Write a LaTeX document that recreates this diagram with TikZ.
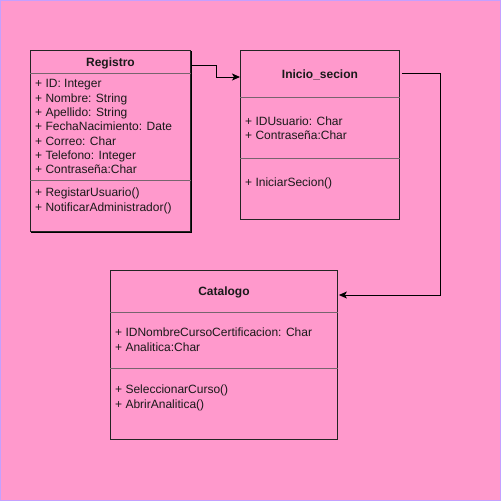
\documentclass[tikz,border=0pt]{standalone}
\usepackage{fontspec}
\setmainfont{Liberation Sans}
\usepackage{tikz}
\usepackage{xcolor}
\usetikzlibrary{arrows.meta,positioning}
\definecolor{ucpink}{RGB}{255,153,204}
\definecolor{ucframe}{RGB}{196,160,255}
\definecolor{ucedge}{RGB}{36,36,36}
\definecolor{ucsepgrey}{RGB}{120,100,110}
\definecolor{uctext}{RGB}{26,26,26}
\tikzset{
  ucclass/.style={draw=ucedge, line width=0.9pt, rectangle, inner sep=0pt, anchor=north west},
  uctitle/.style={font=\fontsize{12}{14}\selectfont\bfseries, text=uctext, inner sep=0pt, text height=8.6pt, text depth=0pt},
  ucmembers/.style={font=\fontsize{12}{14.3}\selectfont, text=uctext, align=left, inner sep=0pt, anchor=north west},
  ucsep/.style={draw=ucsepgrey, line width=0.8pt},
  ucshadow/.style={draw=black, line width=1pt},
  ucarrow/.style={-{Stealth[length=8pt,width=7pt,inset=2pt]}, line width=1pt, draw=black}
}
\begin{document}
\begin{tikzpicture}[x=1pt, y=-1pt]
  \useasboundingbox (0,0) rectangle (501,501);
  \fill[ucframe] (0,0) rectangle (501,501);
  \fill[ucpink] (1,1) rectangle (500,500);
  % classes
  \node[ucclass, minimum width=160pt, minimum height=181pt] (registro) at (30,50) {};
  \node[ucclass, minimum width=159pt, minimum height=169pt] (inicio) at (240,50) {};
  \node[ucclass, minimum width=227pt, minimum height=169pt] (catalogo) at (110,270) {};
  \draw[ucshadow] ([xshift=1pt,yshift=-1pt]registro.north east) -- ([xshift=1pt,yshift=-1pt]registro.south east) -- ([xshift=1pt,yshift=-1pt]registro.south west);
  % Registro
  \node[uctitle] (registro-title) at ([yshift=-12pt]registro.north) {Registro};
  \draw[ucsep] ([yshift=-23pt]registro.north west) -- ([yshift=-23pt]registro.north east);
  \node[ucmembers] (registro-attr) at ([xshift=5pt,yshift=-29.5pt]registro.north west) {+ ID: Integer\\+ Nombre: String\\+ Apellido: String\\+ FechaNacimiento: Date\\+ Correo: Char\\+ Telefono: Integer\\+ Contraseña:Char};
  \draw[ucsep] ([yshift=-130pt]registro.north west) -- ([yshift=-130pt]registro.north east);
  \node[ucmembers] (registro-ops) at ([xshift=5pt,yshift=-138pt]registro.north west) {+ RegistarUsuario()\\+ NotificarAdministrador()};
  % Inicio_secion
  \node[uctitle] (inicio-title) at ([yshift=-24pt]inicio.north) {Inicio\_secion};
  \draw[ucsep] ([yshift=-47pt]inicio.north west) -- ([yshift=-47pt]inicio.north east);
  \node[ucmembers] (inicio-attr) at ([xshift=5pt,yshift=-66.5pt]inicio.north west) {+ IDUsuario: Char\\+ Contraseña:Char};
  \draw[ucsep] ([yshift=-108pt]inicio.north west) -- ([yshift=-108pt]inicio.north east);
  \node[ucmembers] (inicio-ops) at ([xshift=5pt,yshift=-127.5pt]inicio.north west) {+ IniciarSecion()};
  % Catalogo
  \node[uctitle] (catalogo-title) at ([yshift=-21pt]catalogo.north) {Catalogo};
  \draw[ucsep] ([yshift=-42pt]catalogo.north west) -- ([yshift=-42pt]catalogo.north east);
  \node[ucmembers] (catalogo-attr) at ([xshift=5pt,yshift=-58pt]catalogo.north west) {+ IDNombreCursoCertificacion: Char\\+ Analitica:Char};
  \draw[ucsep] ([yshift=-98pt]catalogo.north west) -- ([yshift=-98pt]catalogo.north east);
  \node[ucmembers] (catalogo-ops) at ([xshift=5pt,yshift=-115pt]catalogo.north west) {+ SeleccionarCurso()\\+ AbrirAnalitica()};
  % connectors
  \draw[ucarrow] ([xshift=1pt,yshift=-15pt]registro.north east) -- ++(25pt,0) |- ([yshift=-27pt]inicio.north west);
  \draw[ucarrow] ([xshift=2pt,yshift=-23pt]inicio.north east) -- ++(39pt,0) |- ([xshift=1pt,yshift=-25pt]catalogo.north east);
\end{tikzpicture}
\end{document}
